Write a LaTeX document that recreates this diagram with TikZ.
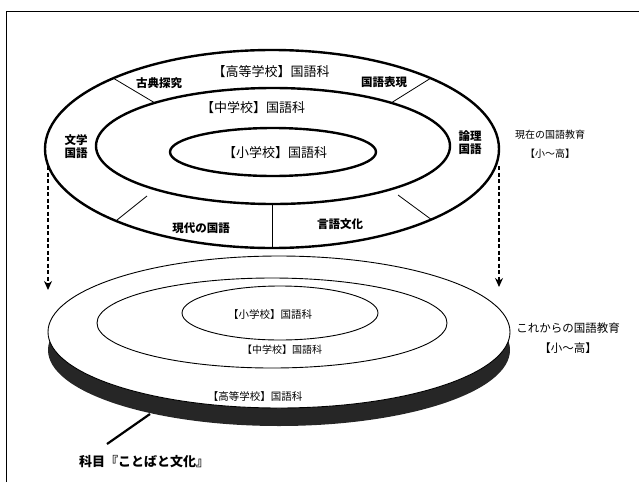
\documentclass[tikz,border=0pt]{standalone}
\usepackage{fontspec}
\setmainfont{Noto Sans CJK JP}
\usetikzlibrary{arrows.meta,calc}
\tikzset{
  thickring/.style={line width=2.4pt},
  thinring/.style={line width=0.9pt},
  divider/.style={line width=0.8pt},
  lbl/.style={font=\bfseries\fontsize{11.5}{13}\selectfont, inner sep=1pt, align=center},
  ringtxt/.style={font=\fontsize{13}{15}\selectfont, inner sep=1pt},
  smalltxt/.style={font=\fontsize{10.5}{12}\selectfont, inner sep=1pt},
  sidetxt/.style={font=\fontsize{11.5}{20}\selectfont, inner sep=1pt, align=center},
  dasharrow/.style={line width=2pt, dash pattern=on 4pt off 2.5pt, -{Stealth[length=9pt,width=8pt]}},
}
\begin{document}
\begin{tikzpicture}[x=1pt,y=-1pt]
\useasboundingbox (0,0) rectangle (639,482);
% frame
\draw[line width=1pt] (6,482) -- (6,11) -- (639,11);

% ===== bottom disk =====
\fill[black!85] (279,350) ellipse [x radius=231, y radius=76];
\draw[thinring, fill=white] (279,332) ellipse [x radius=231, y radius=76];
\draw[thinring] (272,323) ellipse [x radius=175, y radius=45];
\draw[thinring] (280,313) ellipse [x radius=98, y radius=27];
\node[smalltxt] (bsho) at (270,315) {【小学校】国語科};
\node[smalltxt, font=\fontsize{10}{12}\selectfont] (bchu) at (282,350) {【中学校】国語科};
\node[smalltxt] (bkou) at (255,397) {【高等学校】国語科};

% ===== top disk =====
\draw[thickring, fill=white] (272,149) ellipse [x radius=227, y radius=99];
\draw[thickring] (273,146) ellipse [x radius=177, y radius=58];
\draw[thickring] (273,152) ellipse [x radius=103, y radius=24];

\coordinate (ul1) at (113,78);  \coordinate (ul2) at (155,103);
\coordinate (ur1) at (431,78);  \coordinate (ur2) at (391,103);
\coordinate (ll1) at (117,220); \coordinate (ll2) at (147,196);
\coordinate (lr1) at (432,220); \coordinate (lr2) at (398,195);
\coordinate (bm1) at (272,248); \coordinate (bm2) at (272,204);
\draw[divider] (ul1) -- (ul2);
\draw[divider] (ur1) -- (ur2);
\draw[divider] (ll1) -- (ll2);
\draw[divider] (lr1) -- (lr2);
\draw[divider] (bm1) -- (bm2);

\node[ringtxt] (tkou) at (271,72) {【高等学校】国語科};
\node[ringtxt] (tchu) at (253,108) {【中学校】国語科};
\node[ringtxt] (tsho) at (275,153) {【小学校】国語科};

\node[lbl] (koten) at (159,83) {古典探究};
\node[lbl] (hyogen) at (384,82) {国語表現};
\node[lbl] (bungaku) at (76,147) {文学\\国語};
\node[lbl] (ronri) at (470,143) {論理\\国語};
\node[lbl] (gendai) at (201,228) {現代の国語};
\node[lbl] (gengo) at (340,224) {言語文化};

% side labels
\node[sidetxt, font=\fontsize{10}{19}\selectfont] (genzai) at (550,144) {現在の国語教育\\【小〜高】};
\node[sidetxt] (korekara) at (568,338) {これからの国語教育\\【小〜高】};

% dashed arrows
\coordinate (la1) at (48,166); \coordinate (la2) at (48,290);
\coordinate (ra1) at (499,166); \coordinate (ra2) at (499,287);
\draw[dasharrow] (la1) -- (la2);
\draw[dasharrow] (ra1) -- (ra2);

% pointer
\node[lbl, font=\bfseries\fontsize{13}{15}\selectfont, anchor=west] (kamoku) at (78,462) {科目『ことばと文化』};
\coordinate (kp) at (150,414);
\draw[line width=2.2pt] (107,444) -- (kp);
\end{tikzpicture}
\end{document}
